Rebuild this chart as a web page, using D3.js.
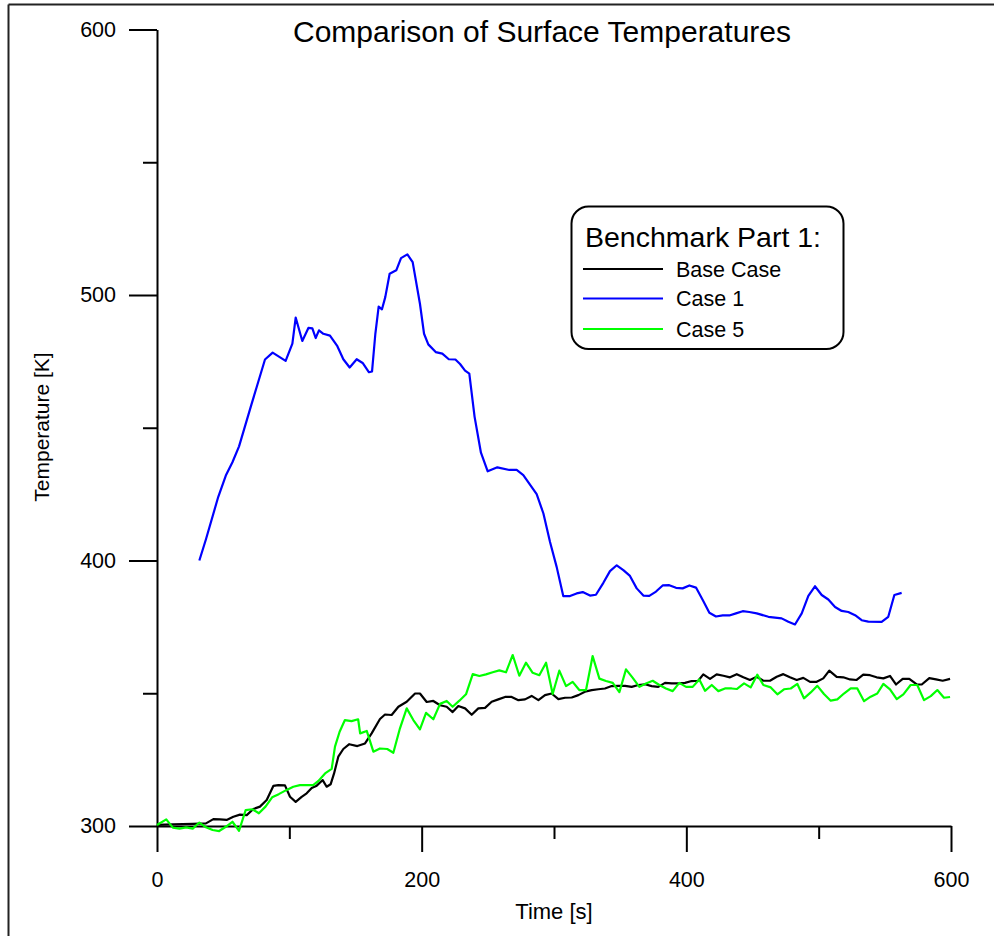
<!DOCTYPE html>
<html>
<head>
<meta charset="utf-8">
<script src="https://cdn.jsdelivr.net/npm/d3@7"></script>
<style>
  html, body { margin: 0; padding: 0; background: #fff; }
  svg { display: block; font-family: "Liberation Sans", Arial, sans-serif; }
</style>
</head>
<body>
<svg id="chart" width="994" height="936"></svg>
<script>
// ---- Data ----
const chartTitle = "Comparison of Surface Temperatures";
const xTitle = "Time [s]";
const yTitle = "Temperature [K]";
const legendTitle = "Benchmark Part 1:";
const seriesNames = ["Base Case", "Case 1", "Case 5"];
const seriesColors = ["#000000", "#0000ff", "#00ff00"];

const xMajorTicks = [0, 200, 400, 600];
const xMinorTicks = [100, 300, 500];
const yMajorTicks = [300, 400, 500, 600];
const yMinorTicks = [350, 450, 550];

const baseTime = [0,12,27,37,42.6,47.6,52.6,57.7,62.7,67.8,72.8,77.8,82.9,87.9,91.7,96.7,100.5,104.8,109.3,113.1,116.9,120.7,125.2,128.2,131.2,133.8,137,140.8,145.3,151.4,157.2,162.2,168.5,172.3,177.3,182.4,188.7,195,198.7,203.8,208.8,213.9,218.9,223.4,227.7,232.8,237.8,242.8,247.9,252.9,257.9,263,268,273.1,278.1,283.1,288.2,293.2,298.2,303.3,308.3,313.4,318.4,323.4,328.5,333.5,338.5,343.6,348.6,353.7,358.7,363.7,368.8,373.8,378.8,383.9,388.9,393.9,399,404,409,412.8,417.9,422.9,428,433,438.1,443.1,448.1,453.2,458.2,463.2,468.3,473.3,478.3,483.4,488.4,493.5,498.5,503.5,508,513.6,518.6,523.7,528.7,533.7,538.8,543.8,548.9,553.9,558.4,563.5,568.5,574.1,577.9,583.6,588.7,593.7,599.3];
const baseTemp = [300.4,300.6,300.8,301,302.6,302.5,302.3,303.5,304.3,304.1,306.4,307.3,309.8,315.1,315.4,315.3,311,309.1,311,312.3,314.3,315.2,317.3,314.8,315.7,319.8,326.1,329,330.8,330.1,331.1,334.9,340.3,342,341.8,344.9,346.8,349.9,349.9,346.7,347.1,345.5,344.9,342.9,345.2,344.3,341.9,344.3,344.5,346.8,347.7,348.6,348.6,347.4,347.7,349,347.4,349.3,349.9,347.8,348.3,348.4,349.3,350.6,351.2,351.5,351.8,352.7,352.8,352.8,352.4,353.1,353.4,352.7,352.4,353.9,353.7,353.7,353.9,354.6,354.7,357.1,355.4,357.1,356.6,356,357.2,356,355,356.2,354.7,354.7,356.2,357.2,356,355,355.8,354.3,354.3,355.6,358.5,356.2,356,355.2,355,357,356.8,356,355.6,356.5,353.3,355.4,355.4,353.3,353.3,355.7,355.2,354.7,355.4];

const case1Time = [32,37,46.3,52,57,62,71.5,81.6,87.4,97.2,102.3,104.8,109.8,114.4,117.4,119.9,122.4,125.7,130.7,136.3,140.8,145.6,150.9,155.4,160.2,162.5,165,167.5,170,172.5,175.8,180.8,184.4,189.2,193.2,198.7,201.8,205,210.6,215.6,220.5,225.5,229,232.8,236,240,244.8,249.9,257.2,266.3,271.8,276.8,286.9,292,297,302,307,312.1,317.1,321.7,327.2,331.7,337.3,342.3,347.4,352.4,357.4,362.5,367.5,372,377.1,382.1,387.1,392.2,397.2,402.3,407.3,412.4,417.4,422.4,427.5,432.5,437.5,442.6,447.6,453.2,462,472,477.1,482.1,487.2,492.2,497.2,502.3,507.3,512.4,517.4,522.4,527.5,532.5,537.5,547.6,552.6,557.2,562.7];
const case1Temp = [400,408,424,432,437,443,459,475.7,478.3,475.2,481.7,491.5,482.7,487.6,487.4,483.8,486.7,485.4,484.7,480.7,475.8,472.7,475.8,474.4,470.9,471.2,485.4,495.6,494.6,499.2,508,509.3,513.9,515.3,512.4,496.7,485.4,481.4,478.5,477.9,475.8,475.7,474,471.5,470.4,454.1,440.6,433.6,435.1,434.1,434.1,432.2,425,417.7,407,397.6,386.6,386.6,387.6,388.1,386.8,387.1,391.6,396,398.2,396.4,394.2,389.5,386.8,386.7,388.3,390.6,390.7,389.7,389.5,390.6,389.8,385.1,380.3,378.9,379.3,379.3,380.1,380.9,380.6,380.1,378.8,378.2,376.9,375.9,380.1,386.7,390.3,387,385.3,382.5,381,380.6,379.4,377.5,377,376.9,378.8,387,387.8];

const case5Time = [0,7,12,17,22,27,32,37,42,47,52,57,62,67,72,77,82,87,92,98,103,108,113,118,122,127,132,134.5,138,142,147,152,153.5,158.5,163.5,168.5,174,178.6,183.6,188.7,193.7,198.7,203.3,208.8,213.9,218.9,223.4,228.5,233.5,238.6,243.6,248.6,253.7,258.7,263.7,268.8,273.8,278.8,283.9,288.9,294,299,304,309.1,314.1,319.1,324.2,329.2,334.3,339.3,344.4,349.4,354.4,359.5,364.5,369.5,374.6,379.6,384.6,389.7,394.7,399.8,404.8,409.8,414.1,419.2,424.2,429.2,434.3,438.1,443.6,448.6,453.6,458.2,463.8,468.8,473.8,478.9,483.9,488.9,494,499,504,509.1,514.1,519.1,524.2,529.2,534.3,539.3,544.3,548.9,553.9,559,564,569.5,574.5,579.6,584.7,589.7,594.7,599.3];
const case5Temp = [300.4,302.5,299.4,299,299.5,299,301.3,299.5,298.5,298.1,299.7,301.6,298.2,306,306.3,304.8,307.3,310.8,312,313.6,314.8,315.4,315.4,315.4,317,319.8,321.5,329.9,335.5,339.9,339.5,340.2,334.9,335.8,328,329.2,329,327.6,336.8,344.3,339.9,336.4,342.6,340.2,346,347.1,344.9,347.2,349.6,357.2,356.5,357.1,357.9,358.6,357.9,364.4,356.6,361.5,357.7,356.8,361.5,349.7,358.5,352.7,354.3,351.2,351.2,364,355.5,354.6,353.9,350.4,359,355.8,352.4,353.7,354.7,353.1,351.8,350.8,353.9,352.4,352.4,355.2,350.9,353.1,350.8,351.8,351.8,351.6,353.7,352.2,357,353.1,352.2,349.6,351.5,351.8,353.5,348.1,350.3,352.8,349.7,347.2,347.7,349.9,351.8,351.8,347,348.7,349.9,353.5,351.5,347.8,349.6,353.1,353.1,347.4,348.9,351.2,348.3,348.6];

// ---- Build ----
const svg = d3.select("#chart");
const x = d3.scaleLinear().domain([0, 600]).range([157, 951]);
const y = d3.scaleLinear().domain([300, 600]).range([826, 29.5]);

// outer frame (top and left edges)
svg.append("line").attr("x1", 8.5).attr("x2", 994).attr("y1", 4.5).attr("y2", 4.5)
  .attr("stroke", "#222").attr("stroke-width", 2);
svg.append("line").attr("x1", 8.5).attr("x2", 8.5).attr("y1", 4.5).attr("y2", 936)
  .attr("stroke", "#222").attr("stroke-width", 2);

function styleAxis(g) {
  g.select(".domain").attr("stroke", "#000").attr("stroke-width", 2);
  g.selectAll(".tick line").attr("stroke", "#000").attr("stroke-width", 2);
  g.selectAll(".tick text").attr("fill", "#000")
    .style("font-size", "21.5px").style("font-family", '"Liberation Sans", Arial, sans-serif');
}

// x axis
const gxMinor = svg.append("g").attr("transform", "translate(0,826)")
  .call(d3.axisBottom(x).tickValues(xMinorTicks).tickSize(13).tickFormat(""));
styleAxis(gxMinor);
gxMinor.select(".domain").remove();
const gx = svg.append("g").attr("transform", "translate(0,826)")
  .call(d3.axisBottom(x).tickValues(xMajorTicks).tickSize(26).tickSizeOuter(0).tickPadding(20).tickFormat(d3.format("d")));
styleAxis(gx);

// y axis
const gyMinor = svg.append("g").attr("transform", "translate(157,0)")
  .call(d3.axisLeft(y).tickValues(yMinorTicks).tickSize(14).tickFormat(""));
styleAxis(gyMinor);
gyMinor.select(".domain").remove();
const gy = svg.append("g").attr("transform", "translate(157,0)")
  .call(d3.axisLeft(y).tickValues(yMajorTicks).tickSize(28).tickSizeOuter(0).tickPadding(13).tickFormat(d3.format("d")));
styleAxis(gy);

// series
const series = [
  { t: baseTime, v: baseTemp, color: seriesColors[0] },
  { t: case1Time, v: case1Temp, color: seriesColors[1] },
  { t: case5Time, v: case5Temp, color: seriesColors[2] }
];
const line = d3.line().x(d => x(d[0])).y(d => y(d[1]));
series.forEach(s => {
  const pts = s.t.map((t, i) => [t, s.v[i]]);
  svg.append("path").datum(pts)
    .attr("d", line).attr("fill", "none")
    .attr("stroke", s.color).attr("stroke-width", 2.2)
    .attr("stroke-linejoin", "round");
});

// titles
svg.append("text").attr("x", 542).attr("y", 42).attr("text-anchor", "middle")
  .style("font-size", "30px").text(chartTitle);
svg.append("text").attr("x", 554).attr("y", 919).attr("text-anchor", "middle")
  .style("font-size", "22px").text(xTitle);
svg.append("text").attr("transform", "translate(49,427) rotate(-90)").attr("text-anchor", "middle")
  .style("font-size", "21px").text(yTitle);

// legend
const lg = svg.append("g");
lg.append("rect").attr("x", 571.5).attr("y", 206.5).attr("width", 272).attr("height", 142.5)
  .attr("rx", 17).attr("ry", 17).attr("fill", "#fff").attr("stroke", "#000").attr("stroke-width", 2);
lg.append("text").attr("x", 585).attr("y", 247).style("font-size", "28.5px").text(legendTitle);
const legendY = [269, 298.5, 329];
seriesNames.forEach((name, i) => {
  lg.append("line").attr("x1", 583).attr("x2", 663).attr("y1", legendY[i]).attr("y2", legendY[i])
    .attr("stroke", seriesColors[i]).attr("stroke-width", 2.2);
  lg.append("text").attr("x", 676).attr("y", legendY[i] + 7.5).style("font-size", "21.5px").text(name);
});
</script>
</body>
</html>
